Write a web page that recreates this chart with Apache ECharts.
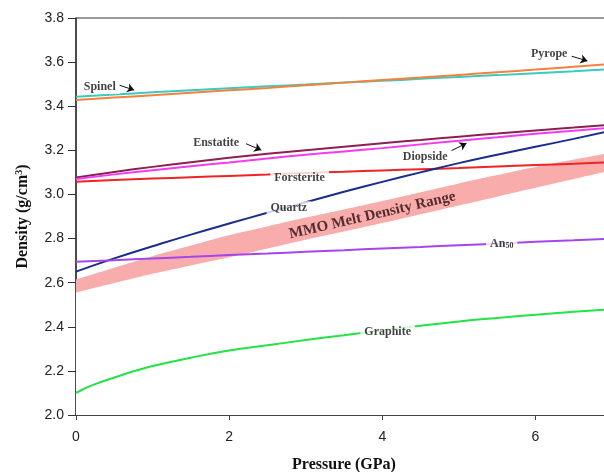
<!DOCTYPE html>
<html>
<head>
<meta charset="utf-8">
<script src="https://cdn.jsdelivr.net/npm/echarts@6/dist/echarts.min.js"></script>
<style>
  html, body { margin: 0; padding: 0; background: #fff; }
  #chart { width: 604px; height: 472px; }
</style>
</head>
<body>
<div id="chart"></div>
<script>
// pressure (GPa) sample points shared by most curves
var pressure = [0, 0.5, 1, 1.5, 2, 2.5, 3, 3.5, 4, 4.5, 5, 5.5, 6, 6.5, 7];

var spinel     = [3.443, 3.453, 3.463, 3.472, 3.481, 3.490, 3.498, 3.507, 3.515, 3.524, 3.533, 3.541, 3.550, 3.559, 3.569];
var pyrope     = [3.428, 3.439, 3.450, 3.461, 3.472, 3.483, 3.495, 3.507, 3.519, 3.530, 3.542, 3.554, 3.566, 3.579, 3.592];
var enstatite  = [3.077, 3.102, 3.125, 3.146, 3.166, 3.184, 3.200, 3.216, 3.232, 3.247, 3.262, 3.276, 3.290, 3.303, 3.316];
var diopside   = [3.070, 3.091, 3.110, 3.128, 3.145, 3.163, 3.180, 3.195, 3.210, 3.227, 3.243, 3.259, 3.275, 3.289, 3.303];
var forsterite = [3.058, 3.065, 3.072, 3.078, 3.084, 3.090, 3.097, 3.103, 3.109, 3.114, 3.120, 3.127, 3.133, 3.139, 3.146];
var quartz     = [2.650, 2.710, 2.765, 2.818, 2.868, 2.917, 2.965, 3.012, 3.057, 3.100, 3.142, 3.180, 3.216, 3.252, 3.290];
var an50       = [2.695, 2.702, 2.710, 2.717, 2.725, 2.732, 2.740, 2.747, 2.755, 2.762, 2.770, 2.777, 2.785, 2.792, 2.800];

// graphite rises steeply at low pressure, so it has its own denser start
var graphiteP  = [0, 0.1, 0.25, 0.5, 0.75, 1, 1.5, 2, 2.5, 3, 3.5, 4, 4.5, 5, 5.5, 6, 6.5, 7];
var graphite   = [2.100, 2.118, 2.140, 2.170, 2.198, 2.222, 2.260, 2.292, 2.316, 2.340, 2.362, 2.384, 2.405, 2.424, 2.440, 2.455, 2.468, 2.480];

// MMO melt density range: lower and upper bounds
var mmoLow  = [2.555, 2.598, 2.640, 2.678, 2.715, 2.755, 2.795, 2.832, 2.870, 2.910, 2.950, 2.990, 3.030, 3.070, 3.110];
var mmoHigh = [2.615, 2.668, 2.720, 2.768, 2.815, 2.855, 2.895, 2.932, 2.970, 3.010, 3.050, 3.088, 3.125, 3.158, 3.190];

var xTicks = [0, 2, 4, 6];

// curve labels: [text, pressure, density]
var curveLabels = [
  ['Spinel', 0.31, 3.487],
  ['Pyrope', 6.18, 3.635],
  ['Enstatite', 1.83, 3.234],
  ['Diopside', 4.56, 3.171],
  ['Forsterite', 2.92, 3.076],
  ['Quartz', 2.78, 2.937],
  ['{a|An}{s|50}', 5.56, 2.778],
  ['Graphite', 4.07, 2.375]
];
var bandLabel = ['MMO Melt Density Range', 3.87, 2.905];

// pointer arrows: [from pressure, from density, to pressure, to density]
var arrows = [
  [0.56, 3.496, 0.76, 3.473],
  [6.47, 3.627, 6.68, 3.605],
  [2.22, 3.230, 2.42, 3.201],
  [4.90, 3.198, 5.10, 3.232]
];

function pairs(xs, ys) {
  return xs.map(function (p, i) { return [p, ys[i]]; });
}

function curve(name, xs, ys, color) {
  return {
    name: name,
    type: 'line',
    smooth: true,
    showSymbol: false,
    data: pairs(xs, ys),
    lineStyle: { color: color, width: 2 },
    itemStyle: { color: color },
    z: 3
  };
}

// band drawn as a pink area to the axis floor, then a white area under the lower bound
function bandEdge(name, ys, fill, z) {
  return {
    name: name,
    type: 'line',
    smooth: true,
    showSymbol: false,
    silent: true,
    data: pairs(pressure, ys),
    lineStyle: { width: 0, opacity: 0 },
    areaStyle: { color: fill, opacity: 1, origin: 'start' },
    z: z
  };
}

var dom = document.getElementById('chart');
var myChart = echarts.init(dom, null, { renderer: 'canvas' });

var option = {
  backgroundColor: '#ffffff',
  animation: false,
  grid: {
    left: 76,
    right: -8,
    top: 18,
    bottom: 57,
    outerBoundsMode: 'none',
    containLabel: false,
    show: true,
    borderColor: '#333',
    borderWidth: 1
  },
  xAxis: {
    type: 'value',
    min: 0,
    max: 7,
    interval: 2,
    name: 'Pressure (GPa)',
    nameLocation: 'middle',
    nameGap: 42,
    nameTextStyle: {
      fontFamily: 'Liberation Serif',
      fontWeight: 'bold',
      fontSize: 16,
      color: '#111'
    },
    axisLine: { lineStyle: { color: '#444', width: 2 } },
    axisTick: { inside: false, length: 5, lineStyle: { color: '#444' }, customValues: xTicks },
    axisLabel: {
      margin: 15,
      fontFamily: 'Liberation Sans',
      fontSize: 14,
      color: '#222',
      customValues: xTicks
    },
    splitLine: { show: false }
  },
  yAxis: {
    type: 'value',
    min: 2.0,
    max: 3.8,
    interval: 0.2,
    name: 'Density (g/cm{sup|3})',
    nameLocation: 'middle',
    nameGap: 44,
    nameTextStyle: {
      fontFamily: 'Liberation Serif',
      fontWeight: 'bold',
      fontSize: 16,
      color: '#111',
      rich: {
        sup: {
          fontFamily: 'Liberation Serif',
          fontWeight: 'bold',
          fontSize: 10,
          color: '#111',
          verticalAlign: 'top',
          padding: [0, 0, 8, 0]
        }
      }
    },
    axisLine: { show: true, lineStyle: { color: '#333', width: 1.5 } },
    axisTick: { show: true, length: 8, lineStyle: { color: '#333' } },
    axisLabel: {
      margin: 12,
      fontFamily: 'Liberation Sans',
      fontSize: 14,
      color: '#222',
      formatter: function (v) { return v.toFixed(1); }
    },
    splitLine: { show: false }
  },
  series: [
    bandEdge('MMO Melt Density Range', mmoHigh, '#f8acac', 1),
    bandEdge('mmoLow', mmoLow, '#ffffff', 2),
    curve('Spinel', pressure, spinel, '#3cc9c0'),
    curve('Pyrope', pressure, pyrope, '#f2823e'),
    curve('Enstatite', pressure, enstatite, '#8e1f52'),
    curve('Diopside', pressure, diopside, '#f23cf0'),
    curve('Forsterite', pressure, forsterite, '#f02424'),
    curve('Quartz', pressure, quartz, '#1c2c8e'),
    curve('An50', pressure, an50, '#a545ee'),
    curve('Graphite', graphiteP, graphite, '#22e445'),
    {
      name: 'arrows',
      type: 'lines',
      coordinateSystem: 'cartesian2d',
      symbol: ['none', 'arrow'],
      symbolSize: 7,
      lineStyle: { color: '#111', width: 1, opacity: 1 },
      data: arrows.map(function (a) { return { coords: [[a[0], a[1]], [a[2], a[3]]] }; }),
      z: 5
    },
    {
      name: 'labels',
      type: 'scatter',
      symbolSize: 0,
      silent: true,
      data: curveLabels.map(function (l) { return { name: l[0], value: [l[1], l[2]] }; }),
      label: {
        show: true,
        position: 'inside',
        formatter: '{b}',
        fontFamily: 'Liberation Serif',
        fontWeight: 'bold',
        fontSize: 12,
        color: '#111',
        backgroundColor: '#ffffff',
        padding: [1, 4],
        rich: {
          a: { fontFamily: 'Liberation Serif', fontWeight: 'bold', fontSize: 12, color: '#111' },
          s: { fontFamily: 'Liberation Serif', fontWeight: 'bold', fontSize: 8, color: '#111', padding: [5, 0, 0, 0] }
        }
      },
      z: 6
    },
    {
      name: 'bandLabel',
      type: 'scatter',
      symbolSize: 0,
      silent: true,
      data: [{ name: bandLabel[0], value: [bandLabel[1], bandLabel[2]] }],
      label: {
        show: true,
        position: 'inside',
        formatter: '{b}',
        rotate: 13,
        fontFamily: 'Liberation Serif',
        fontWeight: 'bold',
        fontSize: 15,
        color: '#2a0c0c'
      },
      z: 6
    }
  ]
};

if (option && typeof option === 'object') {
  myChart.setOption(option);
}

window.addEventListener('resize', myChart.resize);
</script>
</body>
</html>
